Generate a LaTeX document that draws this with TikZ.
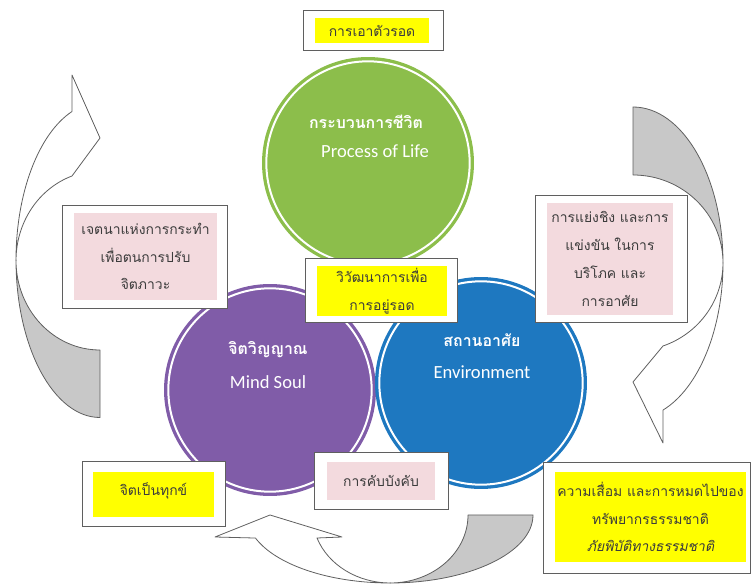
\documentclass[tikz,border=0pt]{standalone}
\usepackage{fontspec}
\newfontfamily\thaifont[Script=Thai]{Loma}
\newfontfamily\engfont{Carlito}
\definecolor{lifegreen}{RGB}{140,190,75}
\definecolor{soulpurple}{RGB}{128,92,168}
\definecolor{envblue}{RGB}{30,120,192}
\definecolor{boxpink}{RGB}{243,218,222}
\definecolor{boxyellow}{RGB}{255,255,0}
\definecolor{framegray}{RGB}{95,95,95}
\definecolor{backgray}{RGB}{200,200,200}
\definecolor{textgray}{RGB}{60,60,60}
\begin{document}
\begin{tikzpicture}[x=0.0265cm, y=-0.0265cm,
  frame/.style={draw=framegray, fill=white, line width=0.7pt},
  ybox/.style={fill=boxyellow, text=textgray, inner sep=0pt, align=center,
    font=\thaifont\fontsize{10.5}{21}\selectfont},
  pbox/.style={ybox, fill=boxpink},
  ring/.style={circle, minimum size=5.39cm, line width=2.5pt, double=white, double distance=1.5pt},
  ctext/.style={text=white, inner sep=0pt},
  bandline/.style={draw=framegray, line width=0.6pt, line join=round}]
\useasboundingbox (0,0) rectangle (752,587);
% curved arrows
\filldraw[bandline, fill=white] (16,260) arc[start angle=180, end angle=250.5, x radius=84, y radius=157.5]
  -- (72,75) -- (100,138) -- (72,176) arc[start angle=250.5, end angle=180, x radius=84, y radius=89.5] -- cycle;
\filldraw[bandline, fill=backgray] (16,260) arc[start angle=180, end angle=90, x radius=84, y radius=157.5]
  -- (100,350) arc[start angle=90, end angle=180, x radius=84, y radius=89.5] -- cycle;
\filldraw[bandline, fill=white] (723,263) arc[start angle=0, end angle=70.5, x radius=90, y radius=156]
  -- (663,443) -- (633,382) -- (663,346) arc[start angle=70.5, end angle=0, x radius=90, y radius=88] -- cycle;
\filldraw[bandline, fill=backgray] (723,263) arc[start angle=0, end angle=-90, x radius=90, y radius=156]
  -- (633,175) arc[start angle=-90, end angle=0, x radius=90, y radius=88] -- cycle;
\filldraw[bandline, fill=white] (390,583) arc[start angle=90, end angle=160.2, x radius=143, y radius=68]
  -- (215,537) -- (270,515) -- (342,537) -- (317,538) arc[start angle=160.2, end angle=90, x radius=78, y radius=68] -- cycle;
\filldraw[bandline, fill=backgray] (390,583) arc[start angle=90, end angle=0, x radius=143, y radius=68]
  -- (468,515) arc[start angle=0, end angle=90, x radius=78, y radius=68] -- cycle;
% circles
\node[ring, fill=lifegreen, draw=lifegreen] (life) at (368,163) {};
\node[ring, fill=soulpurple, draw=soulpurple] (soul) at (270,390) {};
\node[ring, fill=envblue, draw=envblue] (env) at (481,383) {};
\node[ctext, font=\thaifont\bfseries\fontsize{12}{14}\selectfont] (lifeTh) at (366,122) {กระบวนการชีวิต};
\node[ctext, font=\engfont\fontsize{14}{16}\selectfont] (lifeEn) at (375,151) {Process of Life};
\node[ctext, font=\thaifont\bfseries\fontsize{12}{14}\selectfont] (soulTh) at (268,350) {จิตวิญญาณ};
\node[ctext, font=\engfont\fontsize{14}{16}\selectfont] (soulEn) at (268,382) {Mind Soul};
\node[ctext, font=\thaifont\bfseries\fontsize{12}{14}\selectfont] (envTh) at (482,340) {สถานอาศัย};
\node[ctext, font=\engfont\fontsize{14}{16}\selectfont] (envEn) at (482,372) {Environment};
% boxes
\node[frame, minimum width=3.71cm, minimum height=1.06cm] (fSurvive) at (373,30) {};
\node[ybox, minimum width=3.02cm, minimum height=0.66cm] (survive) at (372,30.5) {การเอาตัวรอด};
\node[frame, minimum width=4.35cm, minimum height=2.73cm] (fIntent) at (145,256.5) {};
\node[pbox, minimum width=3.79cm, minimum height=2.31cm] (intent) at (145.5,256.5) {เจตนาแห่งการกระทำ\\เพื่อตนการปรับ\\จิตภาวะ};
\node[frame, minimum width=4.03cm, minimum height=1.72cm] (fEvolve) at (381,290.5) {};
\node[ybox, minimum width=3.45cm, minimum height=1.33cm] (evolve) at (382,291) {วิวัฒนาการเพื่อ\\การอยู่รอด};
\node[frame, minimum width=4.05cm, minimum height=3.39cm] (fCompete) at (611.5,259) {};
\node[pbox, minimum width=3.34cm, minimum height=2.97cm] (compete) at (610,259) {การแย่งชิง และการ\\แข่งขัน ในการ\\บริโภค และ\\การอาศัย};
\node[frame, minimum width=3.79cm, minimum height=1.70cm] (fSuffer) at (153.5,494) {};
\node[ybox, minimum width=3.21cm, minimum height=1.19cm, text depth=0.3cm] (suffer) at (153.5,494.5) {จิตเป็นทุกข์};
\node[frame, minimum width=3.55cm, minimum height=1.51cm] (fForce) at (381,480.5) {};
\node[pbox, minimum width=2.86cm, minimum height=1.01cm] (force) at (381,481) {การคับบังคับ};
\node[frame, minimum width=5.51cm, minimum height=2.92cm] (fDecline) at (647,518) {};
\node[ybox, minimum width=5.06cm, minimum height=2.39cm] (decline) at (650.5,517) {ความเสื่อม และการหมดไปของ\\ทรัพยากรธรรมชาติ\\{\itshape ภัยพิบัติทางธรรมชาติ}};
\end{tikzpicture}
\end{document}
